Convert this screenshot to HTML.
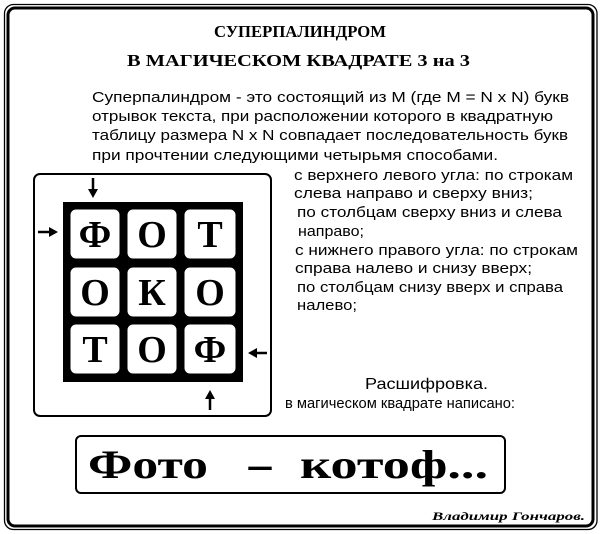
<!DOCTYPE html>
<html><head><meta charset="utf-8"><style>
html,body{margin:0;padding:0;background:#fff;}
svg{display:block;}
.t{font-family:"Liberation Serif",serif;font-weight:bold;}
.s{font-family:"Liberation Sans",sans-serif;}
.c{font-family:"Liberation Serif",serif;font-weight:bold;font-size:38px;text-anchor:middle;}
</style></head><body>
<svg width="600" height="534" viewBox="0 0 600 534" xmlns="http://www.w3.org/2000/svg">
<rect x="4.5" y="4.5" width="592.5" height="525" rx="9" fill="none" stroke="#000" stroke-width="1.3"/>
<rect x="8" y="8" width="585" height="518" rx="7" fill="none" stroke="#000" stroke-width="3"/>

<text class="t" x="214" y="37" font-size="17" textLength="172" lengthAdjust="spacingAndGlyphs">СУПЕРПАЛИНДРОМ</text>
<text class="t" x="127" y="66" font-size="17" textLength="343" lengthAdjust="spacingAndGlyphs">В МАГИЧЕСКОМ КВАДРАТЕ 3 на 3</text>

<g class="s" font-size="15">
<text x="92" y="102" textLength="477" lengthAdjust="spacingAndGlyphs">Суперпалиндром - это состоящий из M (где M = N x N) букв</text>
<text x="92" y="121" textLength="461" lengthAdjust="spacingAndGlyphs">отрывок текста, при расположении которого в квадратную</text>
<text x="92" y="140" textLength="476" lengthAdjust="spacingAndGlyphs">таблицу размера N x N совпадает последовательность букв</text>
<text x="92" y="160" textLength="406" lengthAdjust="spacingAndGlyphs">при прочтении следующими четырьмя способами.</text>

<text x="294" y="180" textLength="279" lengthAdjust="spacingAndGlyphs">с верхнего левого угла: по строкам</text>
<text x="294" y="198" textLength="239" lengthAdjust="spacingAndGlyphs">слева направо и сверху вниз;</text>
<text x="297" y="217" textLength="265" lengthAdjust="spacingAndGlyphs">по столбцам сверху вниз и слева</text>
<text x="298" y="236" textLength="66" lengthAdjust="spacingAndGlyphs">направо;</text>
<text x="295" y="255" textLength="283" lengthAdjust="spacingAndGlyphs">с нижнего правого угла: по строкам</text>
<text x="295" y="273" textLength="237" lengthAdjust="spacingAndGlyphs">справа налево и снизу вверх;</text>
<text x="297" y="292" textLength="266" lengthAdjust="spacingAndGlyphs">по столбцам снизу вверх и справа</text>
<text x="297" y="310" textLength="60" lengthAdjust="spacingAndGlyphs">налево;</text>
</g>

<rect x="34" y="174" width="237" height="242" rx="6" fill="none" stroke="#000" stroke-width="2"/>
<rect x="63" y="202" width="180" height="180" fill="#000"/>
<g fill="#fff" stroke="#000" stroke-width="3">
<rect x="69" y="208" width="52" height="52" rx="7"/>
<rect x="126" y="208" width="52" height="52" rx="7"/>
<rect x="183" y="208" width="54" height="52" rx="7"/>
<rect x="69" y="266" width="52" height="52" rx="7"/>
<rect x="126" y="266" width="52" height="52" rx="7"/>
<rect x="183" y="266" width="54" height="52" rx="7"/>
<rect x="69" y="323" width="52" height="52" rx="7"/>
<rect x="126" y="323" width="52" height="52" rx="7"/>
<rect x="183" y="323" width="54" height="52" rx="7"/>
</g>
<g class="c">
<text x="95" y="247">Ф</text><text x="152" y="247">О</text><text x="210" y="247">Т</text>
<text x="95" y="305">О</text><text x="152" y="305">К</text><text x="210" y="305">О</text>
<text x="95" y="362">Т</text><text x="152" y="362">О</text><text x="210" y="362">Ф</text>
</g>
<g stroke="#000" stroke-width="2.5" fill="#000">
<line x1="93" y1="178" x2="93" y2="190"/><polygon points="88,189 98,189 93,198" stroke="none"/>
<line x1="38" y1="232" x2="50" y2="232"/><polygon points="49,227 49,237 58,232" stroke="none"/>
<line x1="267" y1="353" x2="256" y2="353"/><polygon points="257,348 257,358 248,353" stroke="none"/>
<line x1="210" y1="410" x2="210" y2="398"/><polygon points="205,399 215,399 210,390" stroke="none"/>
</g>

<text class="s" x="365" y="389" font-size="16" textLength="123" lengthAdjust="spacingAndGlyphs">Расшифровка.</text>
<text class="s" x="285" y="408" font-size="15" textLength="230" lengthAdjust="spacingAndGlyphs">в магическом квадрате написано:</text>

<rect x="76" y="436" width="429" height="57" rx="5" fill="none" stroke="#000" stroke-width="2"/>
<text class="t" x="88" y="478" font-size="40" textLength="120" lengthAdjust="spacingAndGlyphs">Фото</text>
<text class="t" x="245" y="478" font-size="40" textLength="30" lengthAdjust="spacingAndGlyphs">-</text>
<text class="t" x="300" y="478" font-size="40" textLength="188" lengthAdjust="spacingAndGlyphs">котоф...</text>

<text class="t" x="432" y="520" font-size="12" font-style="italic" textLength="153" lengthAdjust="spacingAndGlyphs">Владимир Гончаров.</text>
</svg>
</body></html>
